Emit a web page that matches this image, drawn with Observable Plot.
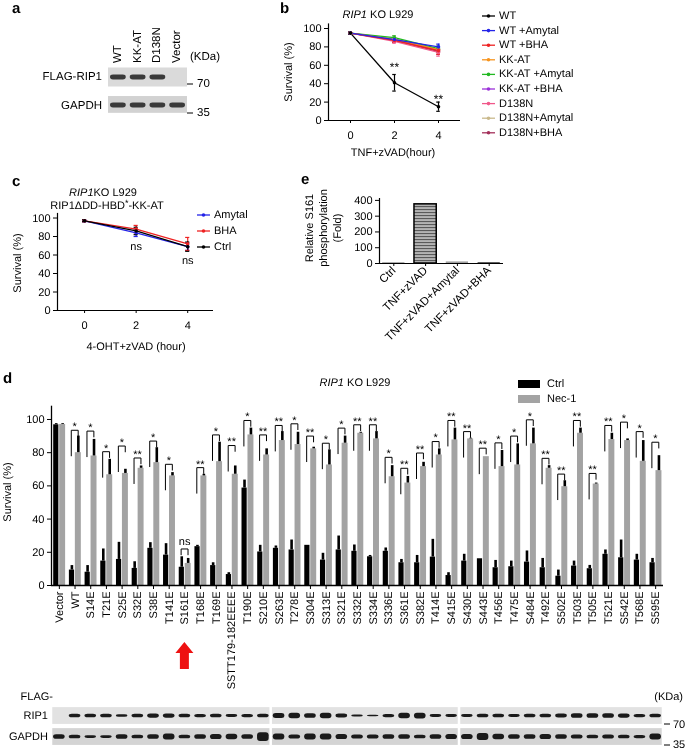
<!DOCTYPE html>
<html><head><meta charset="utf-8">
<script src="https://cdn.jsdelivr.net/npm/d3@7"></script>
<script src="https://cdn.jsdelivr.net/npm/@observablehq/plot@0.6"></script>
<style>
body{margin:0;background:#fff;}
#root{position:relative;width:685px;height:751px;overflow:hidden;background:#fff;}
#root svg{will-change:transform;text-rendering:geometricPrecision;}
</style></head><body><div id="root"></div>
<script>
// ================= DATA =================
// panel a
const aLanes = ["WT", "KK-AT", "D138N", "Vector"];
const aRip1 = [1, 1, 1, 0];
const aGapdh = [1, 1, 1, 1];
// panel b
const bHours = [0, 2, 4];
const bSeries = ["WT", "WT +Amytal", "WT +BHA", "KK-AT", "KK-AT +Amytal", "KK-AT +BHA", "D138N", "D138N+Amytal", "D138N+BHA"];
const bMean = [[95,41,15],[95,88,80],[95,87,76],[95,88,77],[95,90,78],[95,88,77],[95,86,74],[95,89,77],[95,87,75]];
const bSD = [[1,9,5],[1,2,3],[1,2,4],[1,2,3],[1,2,3],[1,2,3],[1,2,4],[1,3,3],[1,2,3]];
const bStarHours = [2, 4];
const bStarY = [61, 27];
const bStarText = ["**", "**"];
// panel c
const cHours = [0, 2, 4];
const cSeries = ["Amytal", "BHA", "Ctrl"];
const cMean = [[97,84,69],[97,88,72],[97,86,69]];
const cSD = [[1,4,4],[1,4,7],[1,4,5]];
const cNsHours = [2, 4];
const cNsY = [69, 54];
// panel e
const eCats = ["Ctrl", "TNF+zVAD", "TNF+zVAD+Amytal", "TNF+zVAD+BHA"];
const eValues = [3, 375, 10, 5];
// panel d
const dCats = ["Vector","WT","S14E","T21E","S25E","S32E","S38E","T141E","S161E","T168E","T169E","SSTT179-182EEEE","T190E","S210E","S263E","T278E","S304E","S313E","S321E","S332E","S334E","S336E","S361E","S382E","T414E","S415E","S430E","S443E","T456E","T475E","S484E","T492E","S502E","T503E","T505E","T521E","S542E","T568E","S595E"];
const dCtrl   = [96.8,9.3,8,14.7,15.7,10.3,22.4,18.3,11,23.4,12,6.6,58.7,20.2,22.4,21.4,24.2,15.3,21.4,20.6,17.3,20.6,13.7,13.7,17.1,6,14.7,16.1,10.7,11.3,14.1,10.7,5.6,11.7,10.1,18.8,16.7,15.3,13.7];
const dCtrlSD = [0.7,2.7,4,7.3,10.3,4,3.4,6.9,6.3,0.8,1.7,1.1,4.8,4,1.4,6,0,4.1,8.4,3.8,0.8,2,2,4.4,10.7,1.7,4.1,0,4.4,3.4,6.7,5.6,3.7,3,2,2.6,10.7,3.5,2.6];
const dNec    = [97,80,78,66.7,67.5,70.6,74,66,13.3,66,74.6,67,90.7,78.6,87.3,84.9,82.3,72.6,85.7,91.7,88.3,65.5,61.7,71.6,78.6,87.7,88.3,77.6,71.6,72.6,85.3,70.6,59.5,91.7,61.1,87.9,87.3,74.8,69.2];
const dNecSD  = [0.5,10,10,9.3,2.5,1.4,9,2,3,1,11.7,5,4.1,3.7,5.4,7.4,1,9.1,4.3,0.6,4.4,6.7,4,2.6,3.7,7.1,0.4,0,9.7,12.7,9.5,1.6,3.6,3.1,0.6,3.8,1,12.5,9];
const dBracket = [null,93.5,93,80.6,84,76.8,87,73,22,71,90.7,84.3,99.4,90.7,96.4,97.4,90,85.7,94.8,96.8,96.8,77.2,70.6,79.8,86.7,99.4,92.7,82.7,85.9,90,99.8,76.6,67.1,99.4,67.5,96.4,98.4,92.7,86.3];
const dSig = ["","*","*","*","*","**","*","*","ns","**","*","**","*","**","**","*","**","*","*","**","**","*","**","**","*","**","**","**","*","*","*","**","**","**","**","**","*","*","*"];
const dGroups = ["Ctrl", "Nec-1"];
// western blot under d (relative band intensity per lane)
const dBlotBlocks = [[0,13],[14,25],[26,38]];
const dRip1 = [0,1,1,1,0.7,1,1.2,1.2,1,0.9,1,0.8,0.9,1, 1.4,1.5,1.3,1.5,1.1,0.6,0.4,0.9,1.5,1.6,0.8,0.8, 0.8,1,1,0.8,1,1,1.1,1.3,1.3,1.3,1.2,0.9,1];
const dGapdh = [1,0.8,0.6,0.6,1,0.8,1,1.3,0.8,1,1.1,1.2,1,1.9, 1.3,0.9,1.3,1.3,1.1,0.9,0.9,1,1,0.8,1,1.1, 1.1,1.5,1.2,1,1,1.1,1,0.9,0.8,0.9,0.8,0.7,1.3];
const markerLabels = ["70", "35"];

// ================= STYLE =================
const FONT = "'Liberation Sans', Arial, Helvetica, sans-serif";
const bColors = ["#000000","#2424e8","#ee2222","#f7941d","#22b822","#9b30d9","#f0588a","#c9b98c","#a3305a"];
const cColors = ["#2424e8","#ee2222","#000000"];
const baseStyle = {fontFamily: FONT, fontSize: "11px", background: "transparent", color: "#000", overflow: "visible"};
const root = document.getElementById("root");
function place(node, left, top) {
  node.style.position = "absolute"; node.style.left = left + "px"; node.style.top = top + "px";
  root.appendChild(node); return node;
}
const fmt = d => String(d);

// ================= PANEL a (blot) =================
const aBands = [];
aLanes.forEach((l, i) => { if (aRip1[i] > 0) aBands.push({i, r: 0, v: aRip1[i]}); aBands.push({i, r: 1, v: aGapdh[i]}); });
const aPlot = Plot.plot({
  width: 95, height: 60, marginLeft: 8, marginRight: 8, marginTop: 0, marginBottom: 0,
  style: baseStyle,
  x: {domain: [-0.5, aLanes.length - 0.5], axis: null},
  y: {domain: [-17/28, 43/28], range: [0, 60], axis: null},
  marks: [
    Plot.rect([0], {x1: -0.5, x2: aLanes.length - 0.5, y1: -0.34, y2: 0.34, fill: "#dadada"}),
    Plot.rect([1], {x1: -0.5, x2: aLanes.length - 0.5, y1: 0.68, y2: 1.28, fill: "#d2d2d2"}),
    Plot.rect(aBands, {x1: d => d.i - 0.4, x2: d => d.i + 0.4, y1: d => d.r - 0.085 * d.v, y2: d => d.r + 0.085 * d.v, fill: "#3a3a3a", rx: 3, ariaLabel: "band"})
  ]
});
place(aPlot, 100, 60);
(function(){
  const s = d3.select(aPlot);
  s.insert("defs", ":first-child").append("filter").attr("id", "blurA").append("feGaussianBlur").attr("stdDeviation", 0.9);
  s.selectAll('g[aria-label="band"]').attr("filter", "url(#blurA)");
})();

// ================= PANEL b =================
const bRows = bSeries.map((s, si) => si).reverse().flatMap(si => bHours.map((h, hi) => ({s: bSeries[si], h, m: bMean[si][hi], e: bSD[si][hi]})));
const bPlot = Plot.plot({
  width: 220, height: 165, marginLeft: 68, marginRight: 20, marginTop: 23.4, marginBottom: 45,
  style: baseStyle,
  x: {domain: [-1, 5]},
  y: {domain: [0, 105]},
  color: {domain: bSeries, range: bColors},
  marks: [
    Plot.axisX({ticks: bHours, tickFormat: fmt, tickSize: 3, tickPadding: 8, label: null, fontSize: 11}),
    Plot.axisY({ticks: [0,20,40,60,80,100], tickFormat: fmt, tickSize: 4, tickPadding: 3, label: null, fontSize: 11}),
    Plot.ruleY([0], {strokeWidth: 1.2}),
    Plot.ruleX([-1], {strokeWidth: 1.2}),
    Plot.ruleX(bRows, {x: "h", y1: d => d.m - d.e, y2: d => d.m + d.e, stroke: "s", strokeWidth: 1.2}),
    Plot.ruleY(bRows, {y: d => d.m + d.e, x1: d => d.h - 0.08, x2: d => d.h + 0.08, stroke: "s", strokeWidth: 1.2}),
    Plot.ruleY(bRows, {y: d => d.m - d.e, x1: d => d.h - 0.08, x2: d => d.h + 0.08, stroke: "s", strokeWidth: 1.2}),
    Plot.line(bRows, {x: "h", y: "m", z: "s", stroke: "s", strokeWidth: 1.3}),
    Plot.dot(bRows, {x: "h", y: "m", fill: "s", r: 1.8}),
    Plot.text(bStarHours, {x: d => d, y: (d, i) => bStarY[i], text: (d, i) => bStarText[i], fontSize: 12, dy: 3, fill: "#000"})
  ]
});
place(bPlot, 260, 0);

// ================= PANEL c =================
const cRows = cSeries.flatMap((s, si) => cHours.map((h, hi) => ({s, h, m: cMean[si][hi], e: cSD[si][hi]})));
const cPlot = Plot.plot({
  width: 223, height: 170, marginLeft: 57, marginRight: 10, marginTop: 32.9, marginBottom: 40,
  style: baseStyle,
  x: {domain: [-1.05, 5]},
  y: {domain: [0, 105]},
  color: {domain: cSeries, range: cColors},
  marks: [
    Plot.axisX({ticks: cHours, tickFormat: fmt, tickSize: 3, tickPadding: 8, label: null, fontSize: 11}),
    Plot.axisY({ticks: [0,20,40,60,80,100], tickFormat: fmt, tickSize: 4, tickPadding: 3, label: null, fontSize: 11}),
    Plot.ruleY([0], {strokeWidth: 1.2}),
    Plot.ruleX([-1.05], {strokeWidth: 1.2}),
    Plot.ruleX(cRows, {x: "h", y1: d => d.m - d.e, y2: d => d.m + d.e, stroke: "s", strokeWidth: 1.2}),
    Plot.ruleY(cRows, {y: d => d.m + d.e, x1: d => d.h - 0.08, x2: d => d.h + 0.08, stroke: "s", strokeWidth: 1.2}),
    Plot.ruleY(cRows, {y: d => d.m - d.e, x1: d => d.h - 0.08, x2: d => d.h + 0.08, stroke: "s", strokeWidth: 1.2}),
    Plot.line(cRows, {x: "h", y: "m", z: "s", stroke: "s", strokeWidth: 1.3}),
    Plot.dot(cRows, {x: "h", y: "m", fill: "s", r: 1.8}),
    Plot.text(cNsHours, {x: d => d, y: (d, i) => cNsY[i], text: () => "ns", fontSize: 11, fill: "#000"})
  ]
});
place(cPlot, 0, 180);

// ================= PANEL e =================
const eIdx = eCats.map((c, i) => i);
const eFill = ["#555555", "url(#stripesE)", "#a0a0a0", "#333333"];
const ePlot = Plot.plot({
  width: 215, height: 200, marginLeft: 79, marginRight: 12, marginTop: 28, marginBottom: 107,
  style: baseStyle,
  x: {domain: [-0.45, eCats.length - 0.55]},
  y: {domain: [0, 412]},
  color: {type: "identity"},
  marks: [
    Plot.rect(eIdx, {x1: i => i - 0.35, x2: i => i + 0.35, y1: 0, y2: i => eValues[i], fill: i => eFill[i], stroke: i => i === 1 ? "#000" : "none", strokeWidth: 1.5}),
    Plot.axisX({ticks: eIdx, tickFormat: i => eCats[i], tickRotate: -45, tickSize: 3, tickPadding: 2, label: null, fontSize: 11.5}),
    Plot.axisY({ticks: [0,100,200,300,400], tickFormat: fmt, tickSize: 4, tickPadding: 3, label: null, fontSize: 11}),
    Plot.ruleY([0], {strokeWidth: 1.2}),
    Plot.ruleX([-0.45], {strokeWidth: 1.2})
  ]
});
place(ePlot, 300, 170);
(function(){
  const s = d3.select(ePlot);
  const p = s.insert("defs", ":first-child").append("pattern").attr("id", "stripesE")
    .attr("patternUnits", "userSpaceOnUse").attr("width", 6).attr("height", 3);
  p.append("rect").attr("width", 6).attr("height", 3).attr("fill", "#b4b4b4");
  p.append("rect").attr("width", 6).attr("height", 1.1).attr("fill", "#5a5a5a");
})();

// ================= PANEL d =================
const dIdx = dCats.map((c, i) => i);
const sigIdx = dIdx.filter(i => dSig[i]);
const brackets = sigIdx.flatMap(i => {
  const t = dBracket[i], leg = dSig[i] === "ns" ? 3.5 : 15.4;
  return [{i, x: i - 0.24, y: t - leg}, {i, x: i - 0.24, y: t}, {i, x: i + 0.2, y: t}, {i, x: i + 0.2, y: t - 3.5}];
});
const dPlot = Plot.plot({
  width: 685, height: 320, marginLeft: 51, marginRight: 22, marginTop: 25.7, marginBottom: 115,
  style: baseStyle,
  x: {domain: [-0.5, dCats.length - 0.5]},
  y: {domain: [0, 108]},
  marks: [
    Plot.rect(dIdx, {x1: i => i - 0.36, x2: i => i - 0.03, y1: 0, y2: i => dCtrl[i], fill: "#000"}),
    Plot.rect(dIdx, {x1: i => i + 0.02, x2: i => i + 0.4, y1: 0, y2: i => dNec[i], fill: "#a3a3a3"}),
    Plot.ruleX(dIdx, {x: i => i - 0.2, y1: i => dCtrl[i], y2: i => dCtrl[i] + dCtrlSD[i], stroke: "#000", strokeWidth: 2.6}),
    Plot.ruleX(dIdx, {x: i => i + 0.21, y1: i => dNec[i], y2: i => dNec[i] + dNecSD[i], stroke: "#000", strokeWidth: 2.6}),
    Plot.line(brackets, {x: "x", y: "y", z: "i", stroke: "#000", strokeWidth: 1}),
    Plot.text(sigIdx.filter(i => dSig[i] !== "ns"), {x: i => i - 0.02, y: i => dBracket[i], text: i => dSig[i], fontSize: 11, dy: -3.6, fill: "#000"}),
    Plot.text(sigIdx.filter(i => dSig[i] === "ns"), {x: i => i - 0.02, y: i => dBracket[i], text: i => dSig[i], fontSize: 11, dy: -7.5, fill: "#000"}),
    Plot.axisX({ticks: dIdx, tickFormat: i => dCats[i], tickRotate: -90, tickSize: 4, tickPadding: 2, label: null, fontSize: 11}),
    Plot.axisY({ticks: [0,20,40,60,80,100], tickFormat: fmt, tickSize: 4, tickPadding: 3, label: null, fontSize: 11}),
    Plot.ruleY([0], {strokeWidth: 1.3}),
    Plot.ruleX([-0.5], {strokeWidth: 1.3})
  ]
});
place(dPlot, 0, 380);

// blot under d
const dBands = [];
dIdx.forEach(i => { if (dRip1[i] > 0) dBands.push({i, r: 0, v: dRip1[i]}); dBands.push({i, r: 1, v: dGapdh[i]}); });
const dBg = dBlotBlocks.map(([a, b]) => ({a, b}));
const blotPlot = Plot.plot({
  width: 685, height: 51, marginLeft: 51, marginRight: 22, marginTop: 0, marginBottom: 0,
  style: baseStyle,
  x: {domain: [-0.5, dCats.length - 0.5], axis: null},
  y: {domain: [-0.74, 1.69], range: [0, 51], axis: null},
  marks: [
    Plot.rect(dBg, {x1: d => d.a - 0.42, x2: d => d.b + 0.42, y1: -0.4, y2: 0.4, fill: "#e2e2e2"}),
    Plot.rect(dBg, {x1: d => d.a - 0.42, x2: d => d.b + 0.42, y1: 0.6, y2: 1.4, fill: "#d4d4d4"}),
    Plot.rect(dBands, {x1: d => d.i - 0.37, x2: d => d.i + 0.37, y1: d => d.r - (d.r ? 0.11 : 0.085) * d.v, y2: d => d.r + (d.r ? 0.11 : 0.085) * d.v, fill: "#1a1a1a", rx: 3, ariaLabel: "band"})
  ]
});
place(blotPlot, 0, 700);
(function(){
  const s = d3.select(blotPlot);
  s.insert("defs", ":first-child").append("filter").attr("id", "blurD").append("feGaussianBlur").attr("stdDeviation", 0.9);
  s.selectAll('g[aria-label="band"]').attr("filter", "url(#blurD)");
})();

// ================= OVERLAY TEXT =================
const ov = d3.select(root).append("svg").attr("width", 685).attr("height", 751)
  .style("position", "absolute").style("left", "0px").style("top", "0px")
  .attr("font-family", FONT).attr("font-size", 11);
function T(x, y, s, o = {}) {
  const t = ov.append("text").attr("x", x).attr("y", y).attr("dominant-baseline", "central")
    .attr("text-anchor", o.anchor || "start").attr("font-size", o.size || 11);
  if (o.bold) t.attr("font-weight", "bold");
  if (o.rot) t.attr("transform", `rotate(${o.rot},${x},${y})`);
  if (Array.isArray(s)) s.forEach(p => { const ts = t.append("tspan").text(p.t); if (p.i) ts.attr("font-style", "italic"); if (p.dy) ts.attr("dy", p.dy).attr("font-size", p.fs || 11); });
  else t.text(s);
  return t;
}
function L(x1, y1, x2, y2, c = "#000", w = 1) { ov.append("line").attr("x1", x1).attr("y1", y1).attr("x2", x2).attr("y2", y2).attr("stroke", c).attr("stroke-width", w); }

// panel letters
T(12, 8, "a", {bold: true, size: 15});
T(280, 8, "b", {bold: true, size: 15});
T(12, 181, "c", {bold: true, size: 15});
T(301, 179, "e", {bold: true, size: 15});
T(3, 378, "d", {bold: true, size: 15});

// panel a text
const ax = aPlot.scale("x");
aLanes.forEach((l, i) => T(100 + ax.apply(i), 63, l, {rot: -90, size: 11.5}));
T(190, 57, "(KDa)", {size: 11.5});
T(102, 77, "FLAG-RIP1", {anchor: "end", size: 11.5});
T(102, 106, "GAPDH", {anchor: "end", size: 11.5});
L(187, 84, 193, 84); T(197, 84, markerLabels[0], {size: 11.5});
L(187, 113, 193, 113); T(197, 113, markerLabels[1], {size: 11.5});

// panel b text
T(378, 15, [{t: "RIP1", i: true}, {t: " KO L929"}], {anchor: "middle"});
T(393, 153, "TNF+zVAD(hour)", {anchor: "middle"});
T(289, 72, "Survival (%)", {anchor: "middle", rot: -90});
bSeries.forEach((s, i) => {
  const y = 16 + i * 14.6;
  L(482, y, 495, y, bColors[i], 1.3);
  ov.append("circle").attr("cx", 488.5).attr("cy", y).attr("r", 1.8).attr("fill", bColors[i]);
  T(499, y, s);
});

// panel c text
T(103, 193, [{t: "RIP1", i: true}, {t: "KO L929"}], {anchor: "middle"});
T(107, 206, [{t: "RIP1ΔDD-HBD"}, {t: "*", dy: -3, fs: 9}, {t: "-KK-AT", dy: 3, fs: 11}], {anchor: "middle"});
T(136, 347, "4-OHT+zVAD (hour)", {anchor: "middle"});
T(18, 263, "Survival (%)", {anchor: "middle", rot: -90});
cSeries.forEach((s, i) => {
  const y = 215 + i * 16;
  L(197, y, 210, y, cColors[i], 1.3);
  ov.append("circle").attr("cx", 203.5).attr("cy", y).attr("r", 1.8).attr("fill", cColors[i]);
  T(214, y, s);
});

// panel e text
T(310, 228, "Relative S161", {anchor: "middle", rot: -90});
T(324, 228, "phosphorylation", {anchor: "middle", rot: -90});
T(338, 228, "(Fold)", {anchor: "middle", rot: -90});

// panel d text
T(355, 383, [{t: "RIP1", i: true}, {t: " KO L929"}], {anchor: "middle"});
T(8, 492, "Survival (%)", {anchor: "middle", rot: -90});
ov.append("rect").attr("x", 518).attr("y", 380).attr("width", 22).attr("height", 8).attr("fill", "#000");
T(547, 384, dGroups[0]);
ov.append("rect").attr("x", 518).attr("y", 395).attr("width", 22).attr("height", 8).attr("fill", "#a3a3a3");
T(547, 399, dGroups[1]);
// red arrow under S161E
const axd = dPlot.scale("x").apply(dCats.indexOf("S161E"));
ov.append("path").attr("fill", "#ee1111")
  .attr("d", `M${axd},642 L${axd + 9},653 L${axd + 4.5},653 L${axd + 4.5},669 L${axd - 4.5},669 L${axd - 4.5},653 L${axd - 9},653 Z`);
// blot labels
T(53, 697, "FLAG-", {anchor: "end"});
T(48, 716, "RIP1", {anchor: "end"});
T(48, 737, "GAPDH", {anchor: "end"});
T(683, 697, "(KDa)", {anchor: "end"});
L(664, 724, 670, 724); T(673, 725, markerLabels[0]);
L(664, 745, 670, 745); T(673, 745, markerLabels[1]);
</script></body></html>
